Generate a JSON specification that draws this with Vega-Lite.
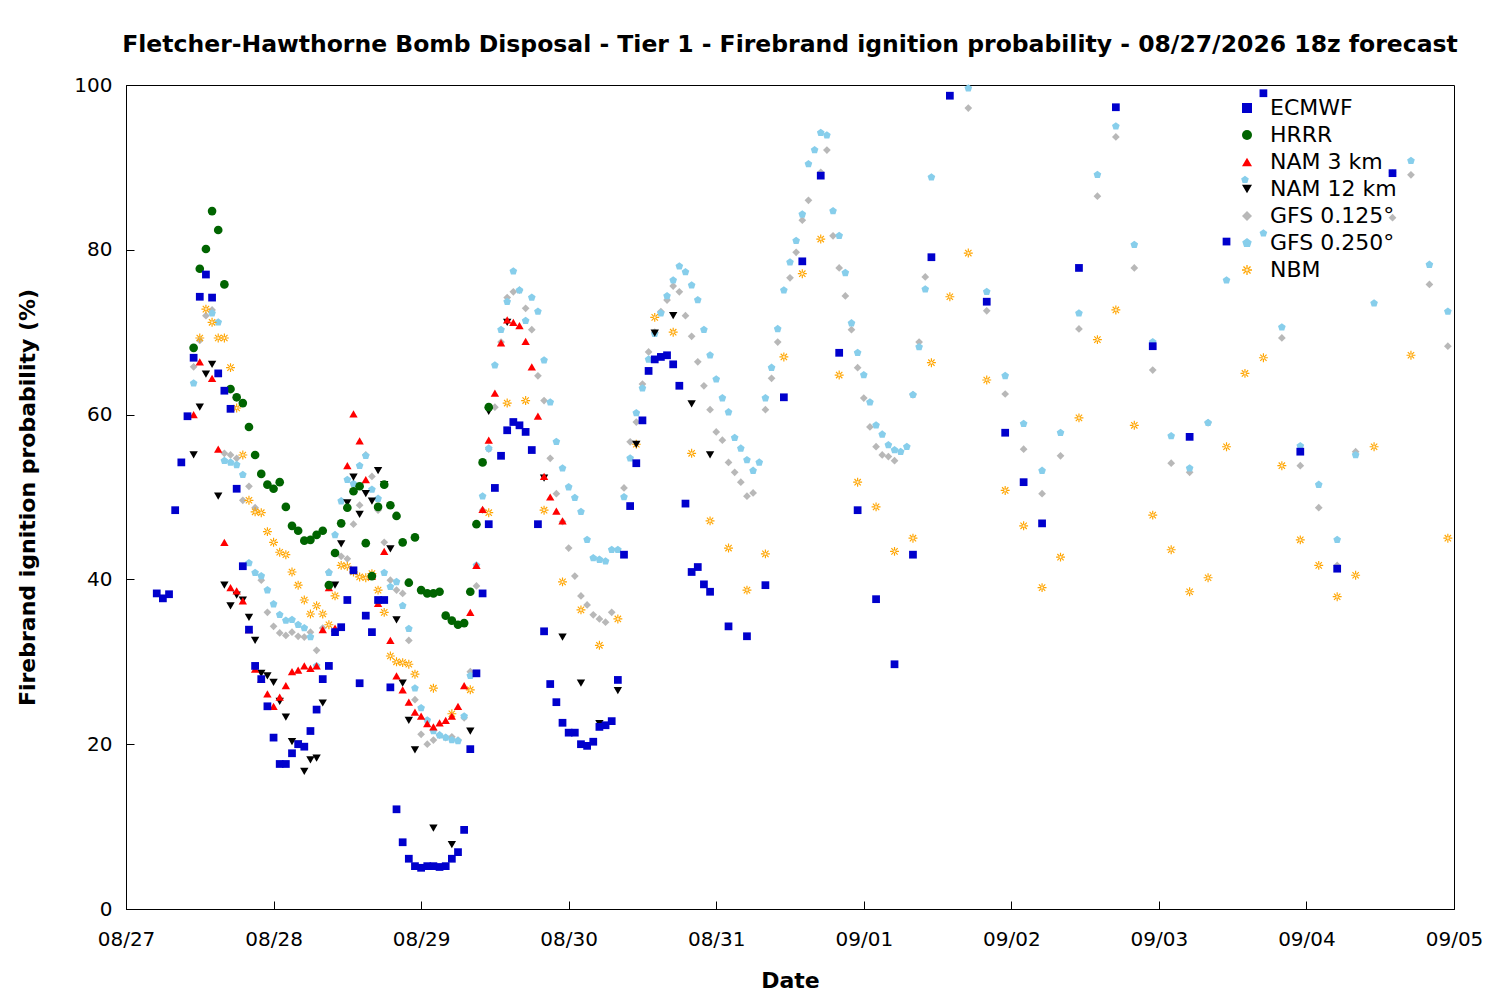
{
"$schema":"https://vega.github.io/schema/vega-lite/v6.json",
"width":1328,"height":824,
"autosize":{"type":"none"},
"padding":{"left":126,"top":85,"right":46,"bottom":91},
"background":"white",
"config":{"font":"DejaVu Sans","view":{"stroke":"black","strokeWidth":1}},
"title":{"text":"Fletcher-Hawthorne Bomb Disposal - Tier 1 - Firebrand ignition probability - 08/27/2026 18z forecast","fontSize":23.5,"fontWeight":"bold","font":"DejaVu Sans","offset":19,"anchor":"middle","dx":0},
"datasets":{
"ECMWF":[[5,38.3],[6,37.7],[7,38.2],[8,48.4],[9,54.2],[10,59.8],[11,66.9],[12,74.3],[13,77],[14,74.2],[15,65],[16,62.9],[17,60.7],[18,51],[19,41.6],[20,33.9],[21,29.5],[22,27.9],[23,24.6],[24,20.8],[25,17.6],[26,17.6],[27,18.9],[28,20],[29,19.7],[30,21.6],[31,24.2],[32,27.9],[33,29.5],[34,33.6],[35,34.2],[36,37.5],[37,41.1],[38,27.4],[39,35.6],[40,33.6],[41,37.5],[42,37.5],[43,26.9],[44,12.1],[45,8.1],[46,6.1],[47,5.2],[48,5],[49,5.2],[50,5.2],[51,5.1],[52,5.2],[53,6.1],[54,6.9],[55,9.6],[56,19.4],[57,28.6],[58,38.3],[59,46.7],[60,51.1],[61,55],[62,58.1],[63,59.1],[64,58.7],[65,57.9],[66,55.7],[67,46.7],[68,33.7],[69,27.3],[70,25.1],[71,22.6],[72,21.4],[73,21.4],[74,20],[75,19.8],[76,20.3],[77,22.1],[78,22.3],[79,22.8],[80,27.8],[81,43],[82,48.9],[83,54.1],[84,59.3],[85,65.3],[86,66.7],[87,67],[88,67.2],[89,66.1],[90,63.5],[91,49.2],[92,40.9],[93,41.5],[94,39.4],[95,38.5],[98,34.3],[101,33.1],[104,39.3],[107,62.1],[110,78.6],[113,89],[116,67.5],[119,48.4],[122,37.6],[125,29.7],[128,43],[131,79.1],[134,98.7],[140,73.7],[143,57.8],[146,51.8],[149,46.8],[155,77.8],[161,97.3],[167,68.3],[173,57.3],[179,81],[185,99],[191,55.5],[197,41.3],[206,89.3]],
"HRRR":[[11,68.1],[12,77.7],[13,80.1],[14,84.7],[15,82.4],[16,75.8],[17,63.1],[18,62.1],[19,61.4],[20,58.5],[21,55.1],[22,52.8],[23,51.5],[24,51],[25,51.8],[26,48.8],[27,46.5],[28,45.9],[29,44.7],[30,44.8],[31,45.4],[32,45.9],[33,39.3],[34,43.2],[35,46.8],[36,48.7],[37,50.7],[38,51.3],[39,44.4],[40,40.4],[41,48.8],[42,51.5],[43,49],[44,47.7],[45,44.5],[46,39.6],[47,45.1],[48,38.7],[49,38.3],[50,38.3],[51,38.5],[52,35.6],[53,35],[54,34.5],[55,34.7],[56,38.5],[57,46.7],[58,54.2],[59,60.9]],
"NAM 3 km":[[11,60],[12,66.4],[14,64.4],[15,55.8],[16,44.5],[17,39],[18,38.6],[19,37.4],[20,33.9],[21,29.1],[22,27.9],[23,26.1],[24,24.6],[25,25.7],[26,27.1],[27,28.8],[28,29],[29,29.5],[30,29.2],[31,29.5],[32,33.9],[33,39],[34,34.1],[36,53.8],[37,60.1],[38,56.8],[39,52.1],[40,40.4],[41,37.1],[42,43.4],[43,32.6],[44,28.3],[45,26.6],[46,25.1],[47,23.9],[48,23.4],[49,22.5],[50,22.1],[51,22.6],[52,22.9],[53,23.4],[54,24.6],[55,27.1],[56,36],[57,41.7],[58,48.5],[59,56.9],[60,62.6],[61,68.7],[62,71.5],[63,71.2],[64,70.8],[65,68.9],[66,65.8],[67,59.8],[68,52.5],[69,50],[70,48.3],[71,47.1]],
"NAM 12 km":[[11,55.1],[12,60.9],[13,64.9],[14,66.1],[15,50.1],[16,39.3],[17,36.8],[18,38.1],[19,37.5],[20,35.4],[21,32.6],[22,28.6],[23,28.3],[24,27.5],[25,25.2],[26,23.3],[27,20.3],[28,20],[29,16.7],[30,18.1],[31,18.3],[32,25],[33,39],[34,39.3],[35,44.3],[36,49.3],[37,52.4],[38,47.9],[39,50.4],[40,49.5],[41,53.2],[42,51.5],[43,43.7],[44,35.1],[45,27.4],[46,22.9],[47,19.3],[50,9.8],[53,7.8],[56,21.6],[59,60.4],[62,71.2],[68,52.3],[71,33],[74,27.4],[77,22.5],[80,26.5],[83,56.4],[86,69.9],[89,72],[92,61.3],[95,55.1]],
"GFS 0.125°":[[11,65.8],[12,69],[13,72],[14,72.7],[16,55.3],[17,55.1],[18,54.7],[19,49.6],[20,51.3],[21,48.7],[22,39.9],[23,36],[24,34.3],[25,33.5],[26,33.2],[27,33.6],[28,33.1],[29,33],[30,33.6],[31,31.4],[32,34.1],[33,40.9],[35,42.8],[36,42.5],[37,46.7],[38,49],[39,55.1],[40,52.5],[41,48.4],[42,44.5],[43,39.9],[44,38.7],[45,38.3],[46,32.6],[47,25.4],[48,21.2],[49,20],[50,20.5],[51,21.1],[52,20.8],[53,20.9],[54,20.5],[55,23.2],[56,28.8],[57,39.2],[58,48.4],[59,55.8],[60,60.9],[61,68.8],[62,74.2],[63,74.9],[64,75.1],[65,72.9],[66,70.3],[67,64.7],[68,61.7],[69,54.7],[70,50.4],[71,47],[72,43.8],[73,40.4],[74,38],[75,36.9],[76,35.7],[77,35.2],[78,34.8],[79,36],[81,51.1],[82,56.7],[83,59.1],[84,63.7],[85,67.6],[86,70],[87,72.5],[88,73.9],[89,75.6],[90,74.9],[91,72],[92,69.5],[93,66.4],[94,63.5],[95,60.6],[96,57.9],[97,56.9],[98,54.2],[99,53],[100,51.8],[101,50.1],[102,50.5],[104,60.6],[105,64.4],[106,68.8],[108,76.6],[109,79.7],[110,83.6],[111,86],[113,89.4],[114,92.1],[115,81.7],[116,77.8],[117,74.4],[118,70.3],[119,65.7],[120,62],[121,58.5],[122,56.1],[123,55.1],[124,54.9],[125,54.4],[128,62.4],[129,68.8],[130,76.7],[137,97.2],[140,72.6],[143,62.5],[146,55.8],[149,50.4],[152,55],[155,70.4],[158,86.5],[161,93.7],[164,77.8],[167,65.4],[170,54.1],[173,53],[176,59],[188,69.3],[191,53.8],[194,48.7],[197,41.7],[200,55.5],[206,83.9],[209,89.1],[212,75.8],[215,68.3]],
"GFS 0.250°":[[11,63.8],[14,72.3],[15,71.2],[16,54.4],[17,54.2],[18,53.9],[19,52.7],[20,42],[21,40.8],[22,40.4],[23,38.7],[24,37],[25,35.7],[26,35],[27,35.1],[28,34.5],[29,34.1],[30,33],[31,29.5],[33,40.8],[34,45.4],[35,49.5],[36,52.1],[37,51.6],[38,53.8],[39,55],[40,50.9],[41,49.8],[42,40.8],[43,39.1],[44,39.7],[45,36.8],[46,34],[47,26.8],[48,24.4],[49,22.9],[50,21.6],[51,21.1],[52,20.8],[53,20.5],[54,20.4],[55,23.4],[56,28.3],[57,41.7],[58,50.1],[59,55.9],[60,66],[61,70.3],[62,73.7],[63,77.4],[64,75.1],[65,71.4],[66,74.2],[67,72.5],[68,66.6],[69,61.5],[70,56.7],[71,53.5],[72,51.2],[73,49.9],[74,48.2],[75,44.8],[76,42.6],[77,42.4],[78,42.2],[79,43.6],[80,43.6],[81,50],[82,54.7],[83,60.2],[84,63.2],[85,66.7],[86,69.8],[87,72.3],[88,74.4],[89,76.3],[90,78],[91,77.3],[92,75.7],[93,73.9],[94,70.3],[95,67.2],[96,64.3],[97,62],[98,60.3],[99,57.2],[100,55.9],[101,54.5],[102,53.2],[103,54.2],[104,62],[105,65.7],[106,70.4],[107,75.1],[108,78.5],[109,81.1],[110,84.3],[111,90.4],[112,92.1],[113,94.2],[114,93.9],[115,84.7],[116,81.7],[117,77.2],[118,71.1],[119,67.5],[120,64.8],[121,61.5],[122,58.7],[123,57.6],[124,56.3],[125,55.7],[126,55.5],[127,56.1],[128,62.4],[129,68.2],[130,75.2],[131,88.8],[137,99.6],[140,74.9],[143,64.7],[146,58.9],[149,53.2],[152,57.8],[155,72.3],[158,89.1],[161,95],[164,80.6],[167,68.8],[170,57.4],[173,53.5],[176,59],[179,76.3],[182,88.5],[185,82],[188,70.6],[191,56.2],[194,51.5],[197,44.8],[200,55.1],[203,73.5],[206,89.3],[209,90.8],[212,78.2],[215,72.5]],
"NBM":[[12,69.3],[13,72.8],[14,71.2],[15,69.3],[16,69.3],[17,65.7],[18,60.8],[19,55.1],[20,49.6],[21,48.2],[22,48.1],[23,45.8],[24,44.5],[25,43.3],[26,43],[27,40.9],[28,39.3],[29,37.5],[30,35.8],[31,36.8],[32,35.8],[33,34.5],[34,38],[35,41.7],[36,41.6],[37,40.9],[38,40.3],[39,40.2],[40,40.7],[41,38.7],[42,36],[43,30.7],[44,30],[45,29.9],[46,29.7],[47,28.5],[50,26.8],[53,23.7],[56,26.6],[59,48.1],[62,61.4],[65,61.7],[68,48.4],[71,39.7],[74,36.3],[77,32],[80,35.2],[83,56.4],[86,71.8],[89,70],[92,55.3],[95,47.1],[98,43.8],[101,38.7],[104,43.1],[107,67],[110,77.1],[113,81.3],[116,64.8],[119,51.8],[122,48.8],[125,43.4],[128,45],[131,66.3],[134,74.3],[137,79.6],[140,64.2],[143,50.8],[146,46.5],[149,39],[152,42.7],[155,59.6],[158,69.1],[161,72.7],[164,58.7],[167,47.8],[170,43.6],[173,38.5],[176,40.2],[179,56.1],[182,65],[185,66.9],[188,53.8],[191,44.8],[194,41.7],[197,37.9],[200,40.5],[203,56.1],[209,67.2],[215,45]]
},
"layer":[
{"data":{"name":"GFS 0.125°"},"transform":[{"calculate":"'GFS 0.125°'","as":"m"},{"calculate":"datum[0]","as":"h"},{"calculate":"datum[1]","as":"v"}],"mark":{"type":"point","filled":true,"size":60,"opacity":1},"encoding":{}},
{"data":{"name":"GFS 0.250°"},"transform":[{"calculate":"'GFS 0.250°'","as":"m"},{"calculate":"datum[0]","as":"h"},{"calculate":"datum[1]","as":"v"}],"mark":{"type":"point","filled":true,"size":65,"opacity":1},"encoding":{}},
{"data":{"name":"NBM"},"transform":[{"calculate":"'NBM'","as":"m"},{"calculate":"datum[0]","as":"h"},{"calculate":"datum[1]","as":"v"}],"mark":{"type":"point","filled":true,"size":80,"opacity":1},"encoding":{}},
{"data":{"name":"NAM 12 km"},"transform":[{"calculate":"'NAM 12 km'","as":"m"},{"calculate":"datum[0]","as":"h"},{"calculate":"datum[1]","as":"v"}],"mark":{"type":"point","filled":true,"size":70,"opacity":1},"encoding":{}},
{"data":{"name":"NAM 3 km"},"transform":[{"calculate":"'NAM 3 km'","as":"m"},{"calculate":"datum[0]","as":"h"},{"calculate":"datum[1]","as":"v"}],"mark":{"type":"point","filled":true,"size":70,"opacity":1},"encoding":{}},
{"data":{"name":"HRRR"},"transform":[{"calculate":"'HRRR'","as":"m"},{"calculate":"datum[0]","as":"h"},{"calculate":"datum[1]","as":"v"}],"mark":{"type":"point","filled":true,"size":75,"opacity":1},"encoding":{}},
{"data":{"name":"ECMWF"},"transform":[{"calculate":"'ECMWF'","as":"m"},{"calculate":"datum[0]","as":"h"},{"calculate":"datum[1]","as":"v"}],"mark":{"type":"point","filled":true,"size":60,"opacity":1},"encoding":{}}
],
"encoding":{
"x":{"field":"h","type":"quantitative","scale":{"domain":[0,216],"nice":false,"zero":false},
"axis":{"title":"Date","values":[0,24,48,72,96,120,144,168,192,216],"labelExpr":"['08/27','08/28','08/29','08/30','08/31','09/01','09/02','09/03','09/04','09/05'][round(datum.value/24)]","labelFlush":false,"labelOverlap":false,"grid":false,"labelFontSize":20,"titleFontSize":22,"titleFontWeight":"bold","labelColor":"black","titleColor":"black","domainColor":"black","tickColor":"black","tickSize":-8,"labelPadding":28,"titlePadding":21,"labelFont":"DejaVu Sans","titleFont":"DejaVu Sans"}},
"y":{"field":"v","type":"quantitative","scale":{"domain":[0,100],"nice":false},
"axis":{"title":"Firebrand ignition probability (%)","values":[0,20,40,60,80,100],"labelFlush":false,"grid":false,"labelFontSize":20,"titleFontSize":22,"titleFontWeight":"bold","labelColor":"black","titleColor":"black","domainColor":"black","tickColor":"black","tickSize":-8,"labelPadding":22,"titlePadding":34,"labelFont":"DejaVu Sans","titleFont":"DejaVu Sans"}},
"color":{"field":"m","type":"nominal","scale":{"domain":["ECMWF","HRRR","NAM 3 km","NAM 12 km","GFS 0.125°","GFS 0.250°","NBM"],"range":["#0000cc","#006400","#ff0000","#000000","#b8b8b8","#87ceeb","#ffa500"]},
"legend":{"title":null,"orient":"none","legendX":1110,"legendY":12,"labelFontSize":22,"labelFont":"DejaVu Sans","labelColor":"black","symbolSize":100,"rowPadding":5,"labelOffset":12,"symbolOpacity":1,"direction":"vertical"}},
"shape":{"field":"m","type":"nominal","scale":{"domain":["ECMWF","HRRR","NAM 3 km","NAM 12 km","GFS 0.125°","GFS 0.250°","NBM"],"range":["square","circle","triangle-up","triangle-down","diamond","M0,-1L0.95,-0.31L0.59,0.81L-0.59,0.81L-0.95,-0.31Z","M-1,-0.13H1V0.13H-1Z M-0.13,-1H0.13V1H-0.13Z M-0.8,-0.62L0.62,0.8L0.8,0.62L-0.62,-0.8Z M-0.8,0.62L-0.62,0.8L0.8,-0.62L0.62,-0.8Z"]},"legend":null}
}
}
